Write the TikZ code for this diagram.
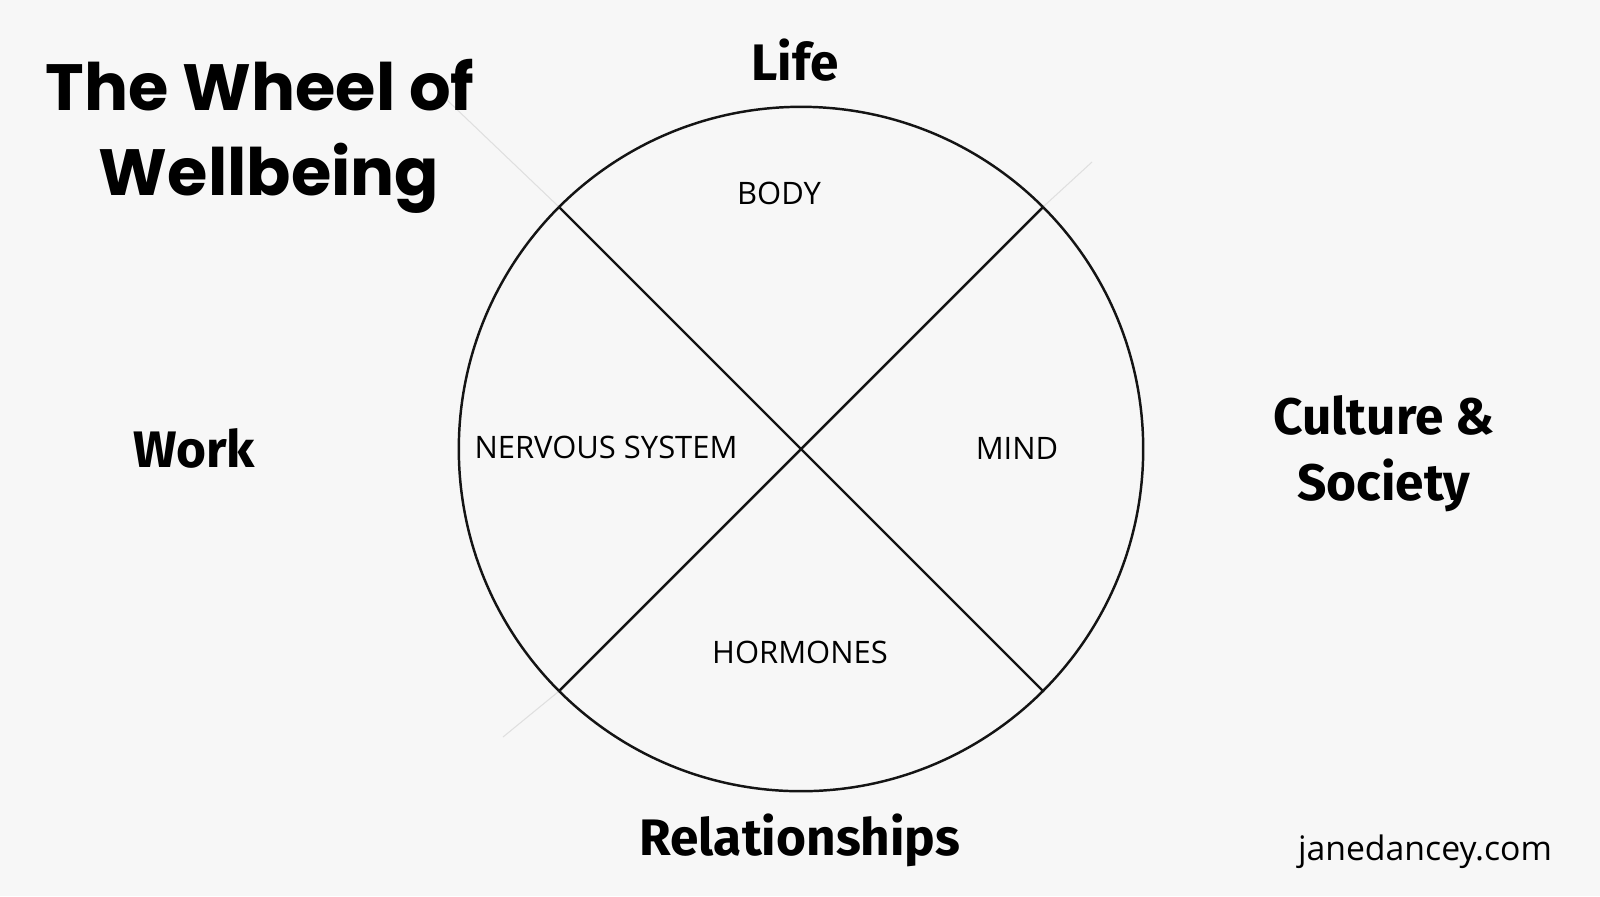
\documentclass[tikz,border=0pt]{standalone}
\usepackage{fontspec}
\setmainfont{Open Sans}
\newfontfamily\titlefont{Poppins}
\newfontfamily\labelfont{Fira Sans}
\usetikzlibrary{positioning}
\definecolor{bgcol}{RGB}{247,247,247}
\definecolor{inkcol}{RGB}{20,20,20}

\begin{document}
\begin{tikzpicture}[
  x=0.01cm, y=-0.01cm,
  title/.style={anchor=base, inner sep=0pt, font=\titlefont\bfseries\fontsize{18.6}{18.6}\selectfont},
  area/.style={anchor=base, inner sep=0pt, font=\labelfont\bfseries\fontsize{14.6}{14.6}\selectfont},
  part/.style={anchor=base, inner sep=0pt, font=\fontsize{8.8}{8.8}\selectfont},
  site/.style={anchor=base, inner sep=0pt, font=\fontsize{9.6}{9.6}\selectfont},
  wheel/.style={draw=inkcol, line width=0.7pt},
  faint/.style={draw=gray!25, line width=0.3pt},
]
  \fill[bgcol] (0,0) rectangle (1600,896);
  \useasboundingbox (0,0) rectangle (1600,896);

  % the wheel
  \node[wheel, circle, minimum size=6.84cm, inner sep=0pt] (wheel) at (801,449) {};
  \draw[wheel] (wheel.135) -- (wheel.-45);
  \draw[wheel] (wheel.45) -- (wheel.-135);

  % faint spokes outside the wheel
  \coordinate (tl) at (447,100);
  \coordinate (tr) at (1092,162);
  \coordinate (bl) at (503,737);
  \draw[faint] (tl) -- (wheel.135);
  \draw[faint] (tr) -- (wheel.45);
  \draw[faint] (bl) -- (wheel.-135);

  % parts inside
  \node[part] (body) at (779,204) {BODY};
  \node[part] (nerves) at (606,458) {NERVOUS SYSTEM};
  \node[part] (mind) at (1017,459) {MIND};
  \node[part] (hormones) at (800,663) {HORMONES};

  % areas round the wheel
  \node[area] (life) at (795,80) {Life};
  \node[area] (work) at (194,467) {Work};
  \node[area] (culture) at (1384,434) {Culture \&};
  \node[area] (society) at (1384,500) {Society};
  \node[area] (relations) at (800,855) {Relationships};

  \node[title] (title1) at (260,110) {The Wheel of};
  \node[title] (title2) at (269,195) {Wellbeing};

  \node[site] (site) at (1425,860) {janedancey.com};
\end{tikzpicture}
\end{document}
